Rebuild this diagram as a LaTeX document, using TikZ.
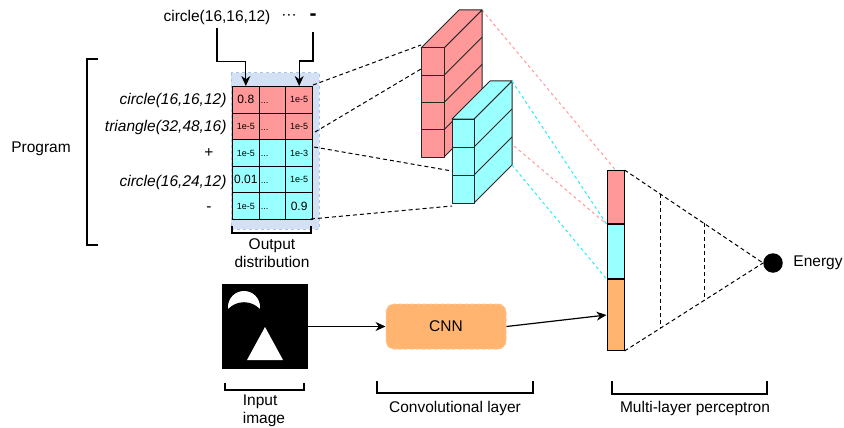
\documentclass[tikz,border=0pt]{standalone}
\usepackage{fontspec}
\setmainfont{Liberation Sans}
\usetikzlibrary{arrows.meta,positioning}

\definecolor{cellred}{HTML}{FF9999}
\definecolor{cellcyan}{HTML}{99FFFF}
\definecolor{linecyan}{HTML}{22EEF2}
\definecolor{cnnorange}{HTML}{FFB570}
\definecolor{bgblue}{HTML}{D4E1F5}
\definecolor{bgedge}{HTML}{A9C4EB}

\newcommand{\bigfont}{\fontsize{15.5}{18.5}\selectfont}
\newcommand{\cellbig}{\fontsize{12}{14}\selectfont}
\newcommand{\cellsmall}{\fontsize{9}{11}\selectfont}

\tikzset{
  cell/.style={draw, line width=1pt, minimum width=26.67pt, minimum height=26.6pt, inner sep=0pt, anchor=north west},
  lab/.style={anchor=east, font=\bigfont\itshape},
  link/.style={line width=1pt, dash pattern=on 4pt off 3pt},
  feat/.style={draw=black!85, line width=1pt, line join=round},
  bracket/.style={line width=2pt},
  arr/.style={-{Stealth[length=10pt,width=9pt]}, line width=1.2pt},
  mlpbox/.style={draw, line width=1pt, minimum width=17pt, inner sep=0pt, anchor=north},
}

\begin{document}
\begin{tikzpicture}[x=1pt, y=-1pt, font=\bigfont]
    \useasboundingbox (0,0) rectangle (844,428);

    % Program and its bracket
    \node (prog) at (41,149) {Program};
    \draw[bracket] (98,59) -- (87,59) -- (87,245) -- (98,245);

    % Tokens on top
    \node (hdr-circ) at (217,17) {circle(16,16,12)};
    \node (hdr-dots) at (289,17) {···};
    \node[font=\fontsize{21}{21}\selectfont\bfseries] (hdr-minus) at (313,17) {-};

    % Output distribution
    \fill[bgblue, draw=bgedge, dashed, line width=1pt] (231,73) rectangle (319,229);
    \foreach \r/\col/\ta/\tc in {1/cellred/{\cellbig 0.8}/{\cellsmall 1e-5},
                                 2/cellred/{\cellsmall 1e-5}/{\cellsmall 1e-5},
                                 3/cellcyan/{\cellsmall 1e-5}/{\cellsmall 1e-3},
                                 4/cellcyan/{\cellbig 0.01}/{\cellsmall 1e-5},
                                 5/cellcyan/{\cellsmall 1e-5}/{\cellbig 0.9}} {
        \node[cell, fill=\col] (c\r1) at (232,{86+(\r-1)*26.6}) {\ta};
        \node[cell, fill=\col] (c\r2) at (258.67,{86+(\r-1)*26.6}) {};
        \node[cell, fill=\col] (c\r3) at (285.33,{86+(\r-1)*26.6}) {\tc};
        \node[anchor=west, inner sep=2pt, font=\cellsmall, text height=1.4ex, text depth=0pt] (d\r) at (c\r2.west) {...};
    }

    % Program lines
    \node[lab] (lab1) at (230,100) {circle(16,16,12)};
    \node[lab] (lab2) at (230,127) {triangle(32,48,16)};
    \node (lab3) at (209,153) {+};
    \node[lab] (lab4) at (230,182) {circle(16,24,12)};
    \node (lab5) at (209,209) {-};

    \draw[bracket] (232,226) |- (311,233) -- (311,226);
    \node[align=center] (out-lab) at (272,253) {Output\\distribution};

    % Token arrows
    \draw[arr] (hdr-circ.south) -- ++(0,34) -| (c11.north);
    \draw[arr] ([yshift=-15pt]hdr-minus.center) -- ++(0,29) -| (c13.north);

    % Multi-layer perceptron
    \node[mlpbox, fill=cellred, minimum height=53pt] (mlp-r) at (615.5,170) {};
    \node[mlpbox, fill=cellcyan, minimum height=54pt] (mlp-c) at (mlp-r.south) {};
    \node[mlpbox, fill=cnnorange, minimum height=71pt] (mlp-o) at (mlp-c.south) {};
    \node[circle, fill=black, minimum size=19.5pt, inner sep=0pt] (energy) at (773,263) {};
    \node[right=7pt of energy] (energy-lab) {Energy};

    \draw[link] (mlp-r.north east) -- (energy.west) coordinate[pos=0.26] (h1t) coordinate[pos=0.575] (h2t);
    \draw[link] (mlp-o.south east) -- (energy.west) coordinate[pos=0.26] (h1b) coordinate[pos=0.575] (h2b);
    \draw[link] (h1t) -- (h1b);
    \draw[link] (h2t) -- (h2b);

    % Feature maps
    \coordinate (red-top) at (482,10);
    \coordinate (red-bot) at (482,119);
    \coordinate (cyan-top) at (512,81);
    \coordinate (cyan-bot) at (512,165);
    \coordinate (red-in1) at (421,45);
    \coordinate (red-in2) at (421,69);
    \coordinate (cyan-in1) at (452,171);
    \coordinate (cyan-in2) at (452,206);
    \coordinate (out1) at (313,85);
    \coordinate (out2) at (315,132);
    \coordinate (out3) at (314,147);
    \coordinate (out4) at (311,219);

    \draw[link, cellred, dash pattern=on 3pt off 3pt] (red-top) -- (mlp-r.north);
    \draw[link, cellred, dash pattern=on 3pt off 3pt] (red-bot) -- (mlp-r.south west);

    \draw[feat, fill=cellred] (444,48) -- (482,10) -- (482,119) -- (444,157) -- cycle;
    \draw[feat, fill=cellred] (421,48) -- (459,10) -- (482,10) -- (444,48) -- cycle;
    \foreach \k in {0,...,3}
        \draw[feat, fill=cellred] (421,{48+\k*27.25}) rectangle ++(23,27.25);
    \foreach \k in {1,2,3}
        \draw[feat] (444,{48+\k*27.25}) -- ++(38,-38);

    \draw[feat, fill=cellcyan] (474,119) -- (512,81) -- (512,165) -- (474,203) -- cycle;
    \draw[feat, fill=cellcyan] (452,119) -- (490,81) -- (512,81) -- (474,119) -- cycle;
    \foreach \k in {0,1,2}
        \draw[feat, fill=cellcyan] (452,{119+\k*28}) rectangle ++(22,28);
    \foreach \k in {1,2}
        \draw[feat] (474,{119+\k*28}) -- ++(38,-38);

    \draw[link, linecyan, dash pattern=on 3pt off 3pt] (cyan-top) -- (mlp-c.north west);
    \draw[link, linecyan, dash pattern=on 3pt off 3pt] (cyan-bot) -- (mlp-c.south west);

    \draw[link] (out1) -- (red-in1);
    \draw[link] (out2) -- (red-in2);
    \draw[link] (out3) -- (cyan-in1);
    \draw[link] (out4) -- (cyan-in2);

    % Input image
    \node[fill=black, minimum width=86pt, minimum height=85pt, inner sep=0pt] (img) at (265,326.5) {};
    \fill[white] (244,307) circle (16);
    \fill[black] (244,324) circle (21.8);
    \fill[white] (265,327) -- (283,360) -- (247,360) -- cycle;
    \draw[bracket] (225,383) |- (304,390) -- (304,383);
    \node[align=left] (in-lab) at (264,411) {Input\\image};

    % Convolutional layer
    \node[fill=cnnorange, draw=cnnorange!75!white, dashed, line width=1pt, rounded corners=8pt,
          minimum width=120pt, minimum height=45pt] (cnn) at (446,326.5) {CNN};
    \draw[bracket] (377,381) |- (533,393) -- (533,381);
    \node (conv-lab) at (455,408) {Convolutional layer};

    \draw[arr] (img.east) -- (cnn.west);
    \draw[arr] (cnn.east) -- (mlp-o.west);

    \draw[bracket] (612,381) |- (767,394) -- (767,381);
    \node (mlp-lab) at (695,408) {Multi-layer perceptron};
\end{tikzpicture}
\end{document}
